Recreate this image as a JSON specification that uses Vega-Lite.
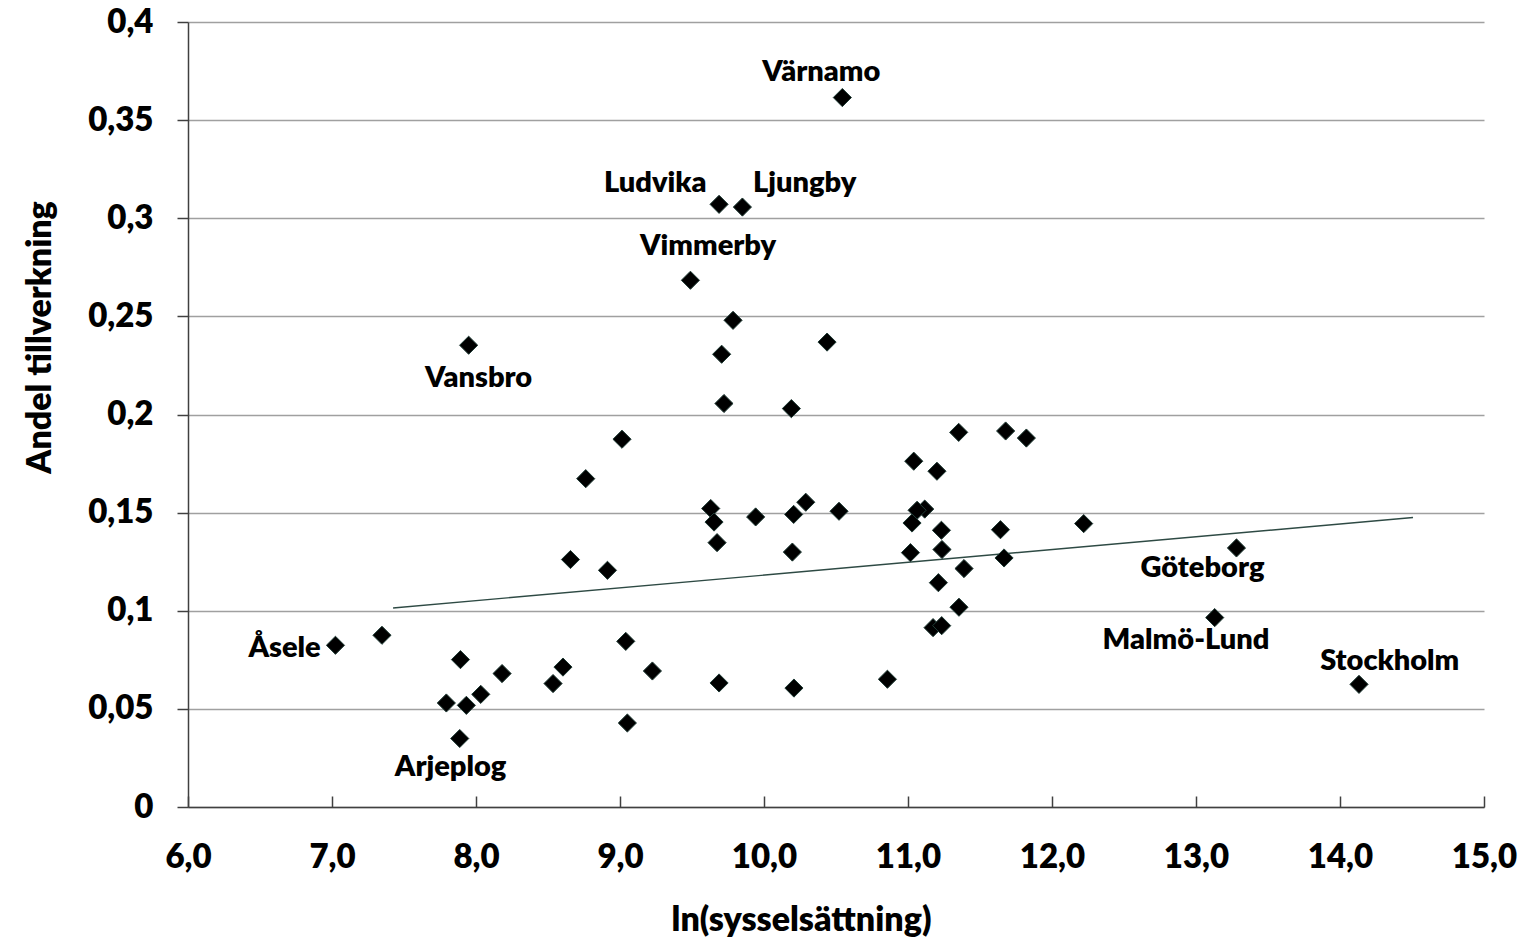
{
  "$schema": "https://vega.github.io/schema/vega-lite/v6.json",
  "width": 1296,
  "height": 785,
  "autosize": {"type": "none"},
  "padding": {"left": 188, "top": 22, "right": 37, "bottom": 135},
  "background": "white",
  "config": {"view": {"stroke": null}, "font": "Lato"},
  "datasets": {
    "points": [
      {"x": 10.544, "y": 0.3615, "name": "Värnamo"},
      {"x": 9.688, "y": 0.3071, "name": "Ludvika"},
      {"x": 9.850, "y": 0.3057, "name": "Ljungby"},
      {"x": 9.489, "y": 0.2684, "name": "Vimmerby"},
      {"x": 9.785, "y": 0.2480, "name": ""},
      {"x": 7.949, "y": 0.2353, "name": "Vansbro"},
      {"x": 9.706, "y": 0.2307, "name": ""},
      {"x": 10.438, "y": 0.2369, "name": ""},
      {"x": 9.722, "y": 0.2056, "name": ""},
      {"x": 10.190, "y": 0.2030, "name": ""},
      {"x": 9.014, "y": 0.1874, "name": ""},
      {"x": 8.762, "y": 0.1673, "name": ""},
      {"x": 8.656, "y": 0.1261, "name": ""},
      {"x": 8.913, "y": 0.1206, "name": ""},
      {"x": 9.040, "y": 0.0844, "name": ""},
      {"x": 8.604, "y": 0.0713, "name": ""},
      {"x": 8.535, "y": 0.0629, "name": ""},
      {"x": 9.225, "y": 0.0693, "name": ""},
      {"x": 9.051, "y": 0.0428, "name": ""},
      {"x": 9.688, "y": 0.0632, "name": ""},
      {"x": 10.208, "y": 0.0606, "name": ""},
      {"x": 10.857, "y": 0.0651, "name": ""},
      {"x": 9.630, "y": 0.1521, "name": ""},
      {"x": 9.653, "y": 0.1452, "name": ""},
      {"x": 9.674, "y": 0.1347, "name": ""},
      {"x": 9.942, "y": 0.1478, "name": ""},
      {"x": 10.206, "y": 0.1491, "name": ""},
      {"x": 10.290, "y": 0.1553, "name": ""},
      {"x": 10.521, "y": 0.1507, "name": ""},
      {"x": 10.197, "y": 0.1299, "name": ""},
      {"x": 11.352, "y": 0.1909, "name": ""},
      {"x": 11.678, "y": 0.1916, "name": ""},
      {"x": 11.822, "y": 0.1880, "name": ""},
      {"x": 11.040, "y": 0.1762, "name": ""},
      {"x": 11.201, "y": 0.1711, "name": ""},
      {"x": 11.116, "y": 0.1518, "name": ""},
      {"x": 11.063, "y": 0.1512, "name": ""},
      {"x": 11.028, "y": 0.1447, "name": ""},
      {"x": 11.232, "y": 0.1410, "name": ""},
      {"x": 11.642, "y": 0.1413, "name": ""},
      {"x": 12.220, "y": 0.1444, "name": ""},
      {"x": 11.017, "y": 0.1296, "name": ""},
      {"x": 11.236, "y": 0.1312, "name": ""},
      {"x": 11.667, "y": 0.1269, "name": ""},
      {"x": 11.389, "y": 0.1215, "name": ""},
      {"x": 11.211, "y": 0.1143, "name": ""},
      {"x": 11.354, "y": 0.1018, "name": ""},
      {"x": 11.174, "y": 0.0914, "name": ""},
      {"x": 11.234, "y": 0.0924, "name": ""},
      {"x": 13.281, "y": 0.1320, "name": "Göteborg"},
      {"x": 13.130, "y": 0.0965, "name": "Malmö-Lund"},
      {"x": 14.132, "y": 0.0625, "name": "Stockholm"},
      {"x": 7.024, "y": 0.0824, "name": "Åsele"},
      {"x": 7.347, "y": 0.0875, "name": ""},
      {"x": 7.892, "y": 0.0751, "name": ""},
      {"x": 8.181, "y": 0.0680, "name": ""},
      {"x": 7.794, "y": 0.0530, "name": ""},
      {"x": 7.933, "y": 0.0518, "name": ""},
      {"x": 8.033, "y": 0.0574, "name": ""},
      {"x": 7.887, "y": 0.0349, "name": "Arjeplog"}
    ],
    "trend": [
      {"x": 7.424, "y": 0.1014},
      {"x": 14.507, "y": 0.1475}
    ]
  },
  "encoding": {
    "x": {
      "field": "x",
      "type": "quantitative",
      "scale": {"domain": [6, 15], "nice": false, "zero": false},
      "axis": {
        "title": "ln(sysselsättning)",
        "values": [6, 7, 8, 9, 10, 11, 12, 13, 14, 15],
        "labelExpr": "replace(format(datum.value, '.1f'), '.', ',')",
        "grid": false,
        "tickSize": -11,
        "tickColor": "#404040",
        "tickWidth": 1.5,
        "domainColor": "#404040",
        "domainWidth": 1.5,
        "labelFont": "Lato",
        "labelFontWeight": 800,
        "labelFontSize": 33,
        "labelColor": "black",
        "labelBaseline": "alphabetic",
        "labelPadding": 71,
        "labelFlush": false,
        "labelOverlap": false,
        "titleFont": "Lato",
        "titleFontWeight": 800,
        "titleFontSize": 34,
        "titleColor": "black",
        "titleX": 613,
        "titleY": 123,
        "titleBaseline": "alphabetic"
      }
    },
    "y": {
      "field": "y",
      "type": "quantitative",
      "scale": {"domain": [0, 0.4], "nice": false, "zero": true},
      "axis": {
        "title": "Andel tillverkning",
        "values": [0, 0.05, 0.1, 0.15, 0.2, 0.25, 0.3, 0.35, 0.4],
        "labelExpr": "replace(format(datum.value, '.2~f'), '.', ',')",
        "grid": true,
        "gridColor": "#a0a0a0",
        "gridWidth": 1.5,
        "tickSize": 11,
        "tickColor": "#404040",
        "tickWidth": 1.5,
        "domainColor": "#404040",
        "domainWidth": 1.5,
        "labelFont": "Lato",
        "labelFontWeight": 800,
        "labelFontSize": 33,
        "labelColor": "black",
        "labelPadding": 24,
        "labelFlush": false,
        "labelOverlap": false,
        "titleFont": "Lato",
        "titleFontWeight": 800,
        "titleFontSize": 34,
        "titleColor": "black",
        "titleAngle": 270,
        "titleX": -138,
        "titleY": 315,
        "titleAlign": "center",
        "titleBaseline": "alphabetic"
      }
    }
  },
  "layer": [
    {
      "data": {"name": "trend"},
      "mark": {"type": "line", "color": "#2e4a44", "strokeWidth": 1.4}
    },
    {
      "data": {"name": "points"},
      "mark": {"type": "point", "shape": "diamond", "filled": true, "fill": "black", "stroke": "#1f3b35", "strokeWidth": 1, "size": 330, "opacity": 1}
    },
    {
      "data": {"name": "points"},
      "transform": [{"filter": "datum.name === 'Värnamo'"}],
      "mark": {"type": "text", "font": "Lato", "fontWeight": 800, "fontSize": 29, "color": "black", "align": "center", "baseline": "alphabetic", "dx": -21, "dy": -16.6},
      "encoding": {"text": {"field": "name"}}
    },
    {
      "data": {"name": "points"},
      "transform": [{"filter": "datum.name === 'Ludvika'"}],
      "mark": {"type": "text", "font": "Lato", "fontWeight": 800, "fontSize": 29, "color": "black", "align": "right", "baseline": "alphabetic", "dx": -12.6, "dy": -12.3},
      "encoding": {"text": {"field": "name"}}
    },
    {
      "data": {"name": "points"},
      "transform": [{"filter": "datum.name === 'Ljungby'"}],
      "mark": {"type": "text", "font": "Lato", "fontWeight": 800, "fontSize": 29, "color": "black", "align": "left", "baseline": "alphabetic", "dx": 10.6, "dy": -15},
      "encoding": {"text": {"field": "name"}}
    },
    {
      "data": {"name": "points"},
      "transform": [{"filter": "datum.name === 'Vimmerby'"}],
      "mark": {"type": "text", "font": "Lato", "fontWeight": 800, "fontSize": 29, "color": "black", "align": "center", "baseline": "alphabetic", "dx": 17.6, "dy": -25},
      "encoding": {"text": {"field": "name"}}
    },
    {
      "data": {"name": "points"},
      "transform": [{"filter": "datum.name === 'Vansbro'"}],
      "mark": {"type": "text", "font": "Lato", "fontWeight": 800, "fontSize": 29, "color": "black", "align": "center", "baseline": "alphabetic", "dx": 10, "dy": 42},
      "encoding": {"text": {"field": "name"}}
    },
    {
      "data": {"name": "points"},
      "transform": [{"filter": "datum.name === 'Åsele'"}],
      "mark": {"type": "text", "font": "Lato", "fontWeight": 800, "fontSize": 29, "color": "black", "align": "right", "baseline": "alphabetic", "dx": -14.7, "dy": 11.7},
      "encoding": {"text": {"field": "name"}}
    },
    {
      "data": {"name": "points"},
      "transform": [{"filter": "datum.name === 'Arjeplog'"}],
      "mark": {"type": "text", "font": "Lato", "fontWeight": 800, "fontSize": 29, "color": "black", "align": "center", "baseline": "alphabetic", "dx": -9.2, "dy": 37.7},
      "encoding": {"text": {"field": "name"}}
    },
    {
      "data": {"name": "points"},
      "transform": [{"filter": "datum.name === 'Göteborg'"}],
      "mark": {"type": "text", "font": "Lato", "fontWeight": 800, "fontSize": 29, "color": "black", "align": "center", "baseline": "alphabetic", "dx": -34, "dy": 29},
      "encoding": {"text": {"field": "name"}}
    },
    {
      "data": {"name": "points"},
      "transform": [{"filter": "datum.name === 'Malmö-Lund'"}],
      "mark": {"type": "text", "font": "Lato", "fontWeight": 800, "fontSize": 29, "color": "black", "align": "center", "baseline": "alphabetic", "dx": -28.7, "dy": 31},
      "encoding": {"text": {"field": "name"}}
    },
    {
      "data": {"name": "points"},
      "transform": [{"filter": "datum.name === 'Stockholm'"}],
      "mark": {"type": "text", "font": "Lato", "fontWeight": 800, "fontSize": 29, "color": "black", "align": "center", "baseline": "alphabetic", "dx": 30.7, "dy": -14},
      "encoding": {"text": {"field": "name"}}
    }
  ]
}
